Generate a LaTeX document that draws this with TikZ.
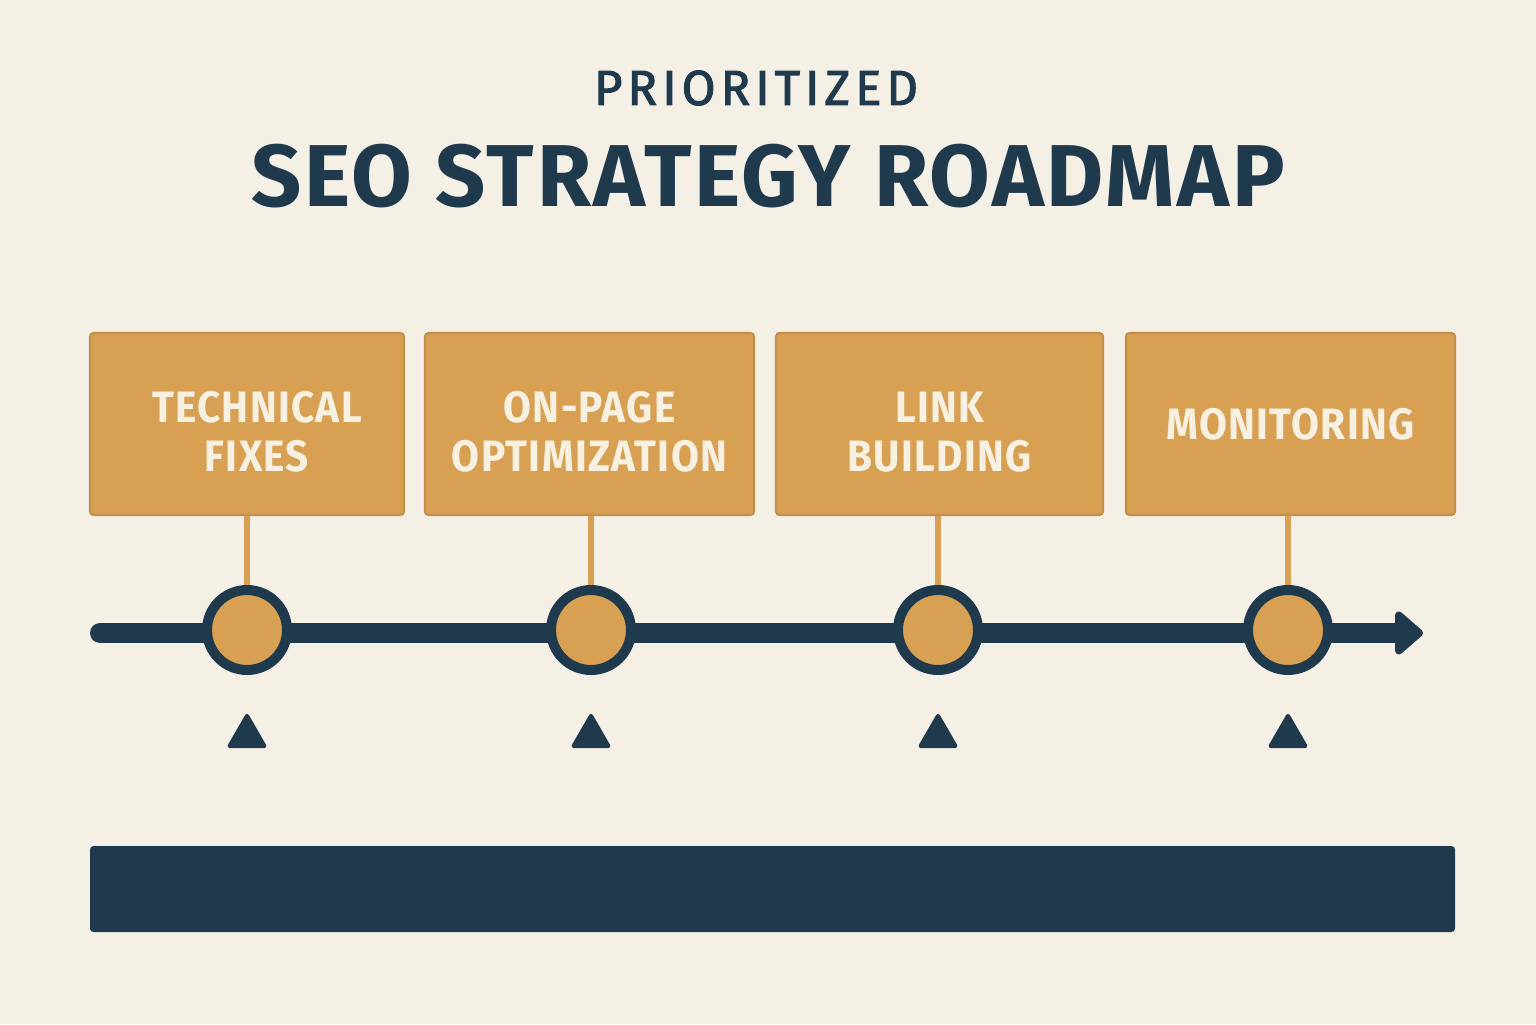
\documentclass[tikz,border=0pt]{standalone}
\usepackage{fontspec}
\setmainfont{Fira Sans}
\newfontfamily\titlefont[LetterSpace=3]{Fira Sans}
\newfontfamily\kickerfont[LetterSpace=10,FakeBold=2]{Fira Sans}
\newfontfamily\stepfont[LetterSpace=3,FakeStretch=0.92]{Fira Sans}
\usetikzlibrary{arrows.meta,shapes.geometric}
\definecolor{paper}{HTML}{F5F0E6}
\definecolor{ochre}{HTML}{D8A053}
\definecolor{navy}{HTML}{1F3A4D}
\definecolor{cream}{HTML}{F8F1E2}

\begin{document}
\begin{tikzpicture}[thick,
    stage/.style={rectangle,fill=ochre,draw=ochre!90!black,line width=0.6pt,rounded corners=1pt,minimum height=1.82cm},
    stagetext/.style={align=center,text=cream,inner sep=0pt,font=\stepfont\bfseries\fontsize{12.5}{14}\selectfont},
    milestone/.style={circle,fill=ochre,draw=navy,line width=0.1cm,minimum size=0.8cm,inner sep=0pt},
    marker/.style={regular polygon,regular polygon sides=3,fill=navy,draw=navy,line width=1.2pt,line join=round,minimum size=0.4cm,inner sep=0pt},
    link/.style={ochre,line width=1.6pt}]
    \useasboundingbox (0,0) rectangle (15.36,10.24);
    \fill[paper] (0,0) rectangle (15.36,10.24);

    \node[font=\kickerfont\fontsize{14}{14}\selectfont,text=navy] (kicker) at (7.56,9.36) {PRIORITIZED};
    \node[font=\titlefont\bfseries\fontsize{25}{25}\selectfont,text=navy] (title) at (7.68,8.48) {SEO STRATEGY ROADMAP};

    \node[stage,minimum width=3.14cm] (1) at (2.47,6.00) {};
    \node[stage,minimum width=3.29cm] (2) at (5.895,6.00) {};
    \node[stage,minimum width=3.27cm] (3) at (9.395,6.00) {};
    \node[stage,minimum width=3.29cm] (4) at (12.905,6.00) {};

    \node[stagetext] (1t) at ([xshift=0.1cm,yshift=-0.08cm]1.center) {TECHNICAL\\FIXES};
    \node[stagetext] (2t) at ([yshift=-0.08cm]2.center) {ON-PAGE\\OPTIMIZATION};
    \node[stagetext] (3t) at ([yshift=-0.08cm]3.center) {LINK\\BUILDING};
    \node[stagetext] (4t) at (4.center) {MONITORING};

    \coordinate (start) at (1.00,3.91);
    \coordinate (end) at (14.23,3.91);
    \draw[navy,line width=0.2cm,line cap=round,-{Triangle[length=3mm,width=5mm,round]}] (start) -- (end);

    \node[milestone] (m1) at (2.47,3.94) {};
    \node[milestone] (m2) at (5.91,3.94) {};
    \node[milestone] (m3) at (9.38,3.94) {};
    \node[milestone] (m4) at (12.88,3.94) {};

    \path[link]
        (1.south) edge (m1.north)
        (m2|-2.south) edge (m2.north)
        (m3|-3.south) edge (m3.north)
        (m4|-4.south) edge (m4.north)
        ;

    \node[marker] (t1) at (2.47,2.88) {};
    \node[marker] (t2) at (5.91,2.88) {};
    \node[marker] (t3) at (9.38,2.88) {};
    \node[marker] (t4) at (12.88,2.88) {};

    \node[rectangle,fill=navy,rounded corners=1pt,minimum width=13.65cm,minimum height=0.86cm,inner sep=0pt] (bar) at (7.725,1.35) {};
\end{tikzpicture}
\end{document}
